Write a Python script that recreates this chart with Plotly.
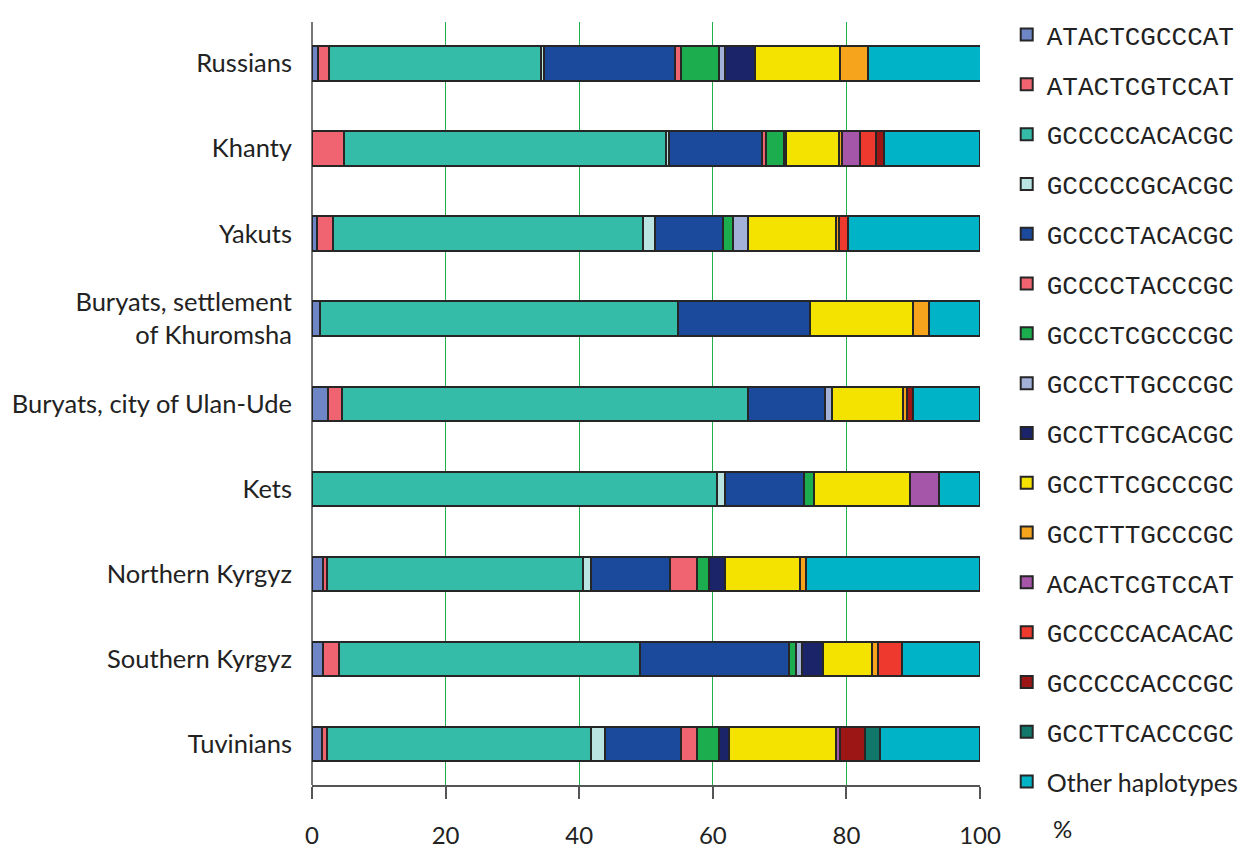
import plotly.graph_objects as go

populations = ["Russians", "Khanty", "Yakuts", "Buryats, settlement<br>of Khuromsha",
               "Buryats, city of Ulan-Ude", "Kets", "Northern Kyrgyz",
               "Southern Kyrgyz", "Tuvinians"]

haplotypes = ["ATACTCGCCCAT", "ATACTCGTCCAT", "GCCCCCACACGC", "GCCCCCGCACGC",
              "GCCCCTACACGC", "GCCCCTACCCGC", "GCCCTCGCCCGC", "GCCCTTGCCCGC",
              "GCCTTCGCACGC", "GCCTTCGCCCGC", "GCCTTTGCCCGC", "ACACTCGTCCAT",
              "GCCCCCACACAC", "GCCCCCACCCGC", "GCCTTCACCCGC", "Other haplotypes"]

v_ATACTCGCCCAT = [0.9, 0, 0.7, 1.2, 2.4, 0, 1.6, 1.6, 1.5]
v_ATACTCGTCCAT = [1.6, 4.8, 2.5, 0, 2.1, 0, 0.7, 2.5, 0.7]
v_GCCCCCACACGC = [31.8, 48.2, 46.3, 53.6, 60.8, 60.7, 38.2, 45.0, 39.6]
v_GCCCCCGCACGC = [0.5, 0.5, 1.8, 0, 0, 1.1, 1.3, 0, 2.1]
v_GCCCCTACACGC = [19.6, 13.9, 10.2, 19.7, 11.5, 11.9, 11.8, 22.3, 11.4]
v_GCCCCTACCCGC = [0.8, 0.6, 0, 0, 0, 0, 4.0, 0, 2.4]
v_GCCCTCGCCCGC = [5.8, 2.6, 1.5, 0, 0, 1.5, 1.9, 1.0, 3.2]
v_GCCCTTGCCCGC = [0.8, 0, 2.3, 0, 1.0, 0, 0, 1.0, 0]
v_GCCTTCGCACGC = [4.5, 0.4, 0, 0, 0, 0, 2.3, 3.1, 1.5]
v_GCCTTCGCCCGC = [12.7, 7.9, 13.2, 15.4, 10.6, 14.3, 11.2, 7.4, 16.0]
v_GCCTTTGCCCGC = [4.3, 0.5, 0.4, 2.5, 0.6, 0, 0.9, 0.8, 0]
v_ACACTCGTCCAT = [0, 2.7, 0, 0, 0, 4.3, 0, 0, 0.7]
v_GCCCCCACACAC = [0, 2.3, 1.4, 0, 0, 0, 0, 3.6, 0]
v_GCCCCCACCCGC = [0, 1.3, 0, 0, 0.9, 0, 0, 0, 3.7]
v_GCCTTCACCCGC = [0, 0, 0, 0, 0, 0, 0, 0, 2.3]
v_Other = [16.8, 14.3, 19.7, 7.6, 10.1, 6.2, 26.1, 11.7, 14.9]

values = [v_ATACTCGCCCAT, v_ATACTCGTCCAT, v_GCCCCCACACGC, v_GCCCCCGCACGC,
          v_GCCCCTACACGC, v_GCCCCTACCCGC, v_GCCCTCGCCCGC, v_GCCCTTGCCCGC,
          v_GCCTTCGCACGC, v_GCCTTCGCCCGC, v_GCCTTTGCCCGC, v_ACACTCGTCCAT,
          v_GCCCCCACACAC, v_GCCCCCACCCGC, v_GCCTTCACCCGC, v_Other]

colors = ["#6f86c6", "#ef6470", "#34bca8", "#b9e4e2", "#1b4a9c", "#ef6470",
          "#1cae4e", "#a3b0d8", "#1b2468", "#f4e200", "#f5a41c", "#a556a8",
          "#ee3a2e", "#9c1616", "#10776a", "#00b3c7"]

x_ticks = [0, 20, 40, 60, 80, 100]

fig = go.Figure()
for name, vals, col in zip(haplotypes, values, colors):
    label = name
    if name == "Other haplotypes":
        label = '<span style="font-family:Lato;font-size:25px">Other haplotypes</span>'
    fig.add_trace(go.Bar(
        y=populations, x=[v if v > 0 else None for v in vals],
        orientation="h", name=label, legendgroup=name,
        marker=dict(color=col, line=dict(color="#262626", width=2)),
    ))

fig.update_layout(
    barmode="stack",
    bargap=0.595,
    width=1257, height=848,
    margin=dict(l=312, r=277, t=11, b=63),
    plot_bgcolor="white", paper_bgcolor="white",
    font=dict(family="Lato", size=25, color="#222"),
    showlegend=True,
    legend=dict(x=1.04, y=1.0142, xanchor="left", yanchor="top",
                font=dict(family="Liberation Mono", size=26, color="#222"),
                tracegroupgap=13, traceorder="grouped", maxheight=848,
                itemwidth=30, bgcolor="rgba(0,0,0,0)"),
    xaxis=dict(range=[0, 100], tickvals=x_ticks, ticks="outside", ticklen=12,
               tickwidth=1.5, tickcolor="#555", showline=True, linecolor="#555",
               linewidth=2, showgrid=True, gridcolor="#21b04b", gridwidth=1.3,
               zeroline=True, zerolinecolor="#777", zerolinewidth=1.5,
               tickfont=dict(size=24, family="Lato"), ticklabelstandoff=16,
               automargin=False),
    yaxis=dict(categoryorder="array", categoryarray=populations[::-1],
               range=[-0.48, 8.487], showgrid=False, ticks="", showline=False,
               tickfont=dict(size=25.5, family="Lato"), ticklabelstandoff=19,
               automargin=False),
)

fig.add_annotation(x=1.123, y=0, xref="paper", yref="paper", yshift=-43,
                   text="%", showarrow=False, font=dict(size=24, family="Lato"),
                   xanchor="center", yanchor="middle")

fig.write_html("out.html")
